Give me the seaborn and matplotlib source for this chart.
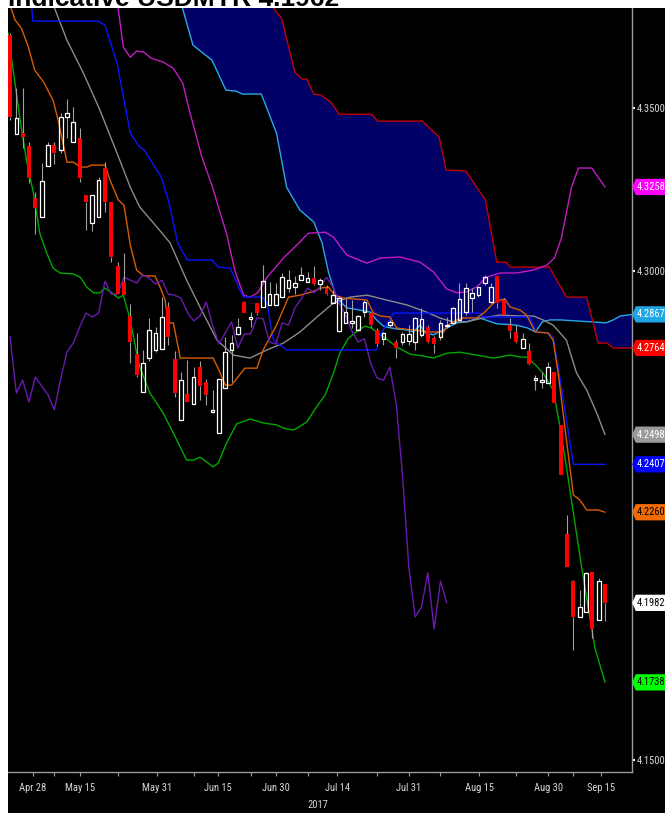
import numpy as np
import pandas as pd
import matplotlib
matplotlib.use("Agg")
import matplotlib.pyplot as plt
from matplotlib import font_manager
from matplotlib.font_manager import FontProperties
from matplotlib.patches import Rectangle
from matplotlib.path import Path
import seaborn as sns

# daily candles, USDMYR (index 0 = first bar on the chart)
opens = [4.3724, 4.3420, 4.3423, 4.3383, 4.3224, 4.3166, 4.3322, 4.3386, 4.3371, 4.3472,
         4.3396, 4.3408, 4.3233, 4.3147, 4.3166, 4.3316, 4.3211, 4.3015, 4.2966, 4.2862,
         4.2746, 4.2629, 4.2733, 4.2758, 4.2761, 4.2890, 4.2730, 4.2543, 4.2623, 4.2592,
         4.2705, 4.2659, 4.2567, 4.2503, 4.2641, 4.2758, 4.2807, 4.2905, 4.2853, 4.2902,
         4.2890, 4.2896, 4.2896, 4.2920, 4.2948, 4.2951, 4.2972, 4.2966, 4.2978, 4.2960,
         4.2948, 4.2902, 4.2816, 4.2841, 4.2841, 4.2819, 4.2874, 4.2871, 4.2819, 4.2792,
         4.2834, 4.2782, 4.2782, 4.2785, 4.2782, 4.2804, 4.2828, 4.2795, 4.2798, 4.2831,
         4.2841, 4.2850, 4.2874, 4.2917, 4.2926, 4.2963, 4.2905, 4.2985, 4.2911, 4.2834,
         4.2813, 4.2764, 4.2755, 4.2665, 4.2659, 4.2656, 4.2690, 4.2528, 4.2193, 4.2049,
         4.1939, 4.1954, 4.2077, 4.1930, 4.2040]
highs = [4.3730, 4.3561, 4.3561, 4.3396, 4.3242, 4.3331, 4.3396, 4.3396, 4.3484, 4.3527,
         4.3503, 4.3438, 4.3233, 4.3233, 4.3288, 4.3334, 4.3211, 4.3027, 4.3055, 4.2899,
         4.2810, 4.2758, 4.2856, 4.2828, 4.2920, 4.2905, 4.2755, 4.2690, 4.2727, 4.2705,
         4.2724, 4.2669, 4.2635, 4.2669, 4.2798, 4.2804, 4.2856, 4.2908, 4.2874, 4.2902,
         4.3018, 4.2966, 4.2963, 4.2994, 4.3003, 4.2985, 4.3012, 4.2997, 4.3015, 4.2978,
         4.2957, 4.2942, 4.2923, 4.2917, 4.2911, 4.2865, 4.2911, 4.2874, 4.2825, 4.2813,
         4.2850, 4.2788, 4.2813, 4.2834, 4.2859, 4.2887, 4.2834, 4.2801, 4.2850, 4.2859,
         4.2890, 4.2963, 4.2963, 4.2948, 4.2951, 4.2988, 4.2963, 4.2985, 4.2917, 4.2856,
         4.2834, 4.2810, 4.2779, 4.2681, 4.2690, 4.2721, 4.2690, 4.2528, 4.2251, 4.2052,
         4.2021, 4.2077, 4.2077, 4.2058, 4.2040]
lows = [4.3463, 4.3420, 4.3377, 4.3270, 4.3113, 4.3166, 4.3322, 4.3328, 4.3362, 4.3408,
        4.3396, 4.3273, 4.3126, 4.3123, 4.3166, 4.3181, 4.3027, 4.2929, 4.2926, 4.2718,
        4.2675, 4.2629, 4.2724, 4.2752, 4.2761, 4.2773, 4.2614, 4.2543, 4.2598, 4.2592,
        4.2604, 4.2589, 4.2564, 4.2503, 4.2641, 4.2659, 4.2804, 4.2871, 4.2828, 4.2865,
        4.2890, 4.2896, 4.2896, 4.2920, 4.2936, 4.2929, 4.2972, 4.2966, 4.2957, 4.2942,
        4.2926, 4.2902, 4.2813, 4.2841, 4.2825, 4.2816, 4.2859, 4.2828, 4.2770, 4.2773,
        4.2828, 4.2733, 4.2773, 4.2773, 4.2758, 4.2798, 4.2779, 4.2749, 4.2788, 4.2825,
        4.2841, 4.2850, 4.2865, 4.2874, 4.2920, 4.2957, 4.2902, 4.2887, 4.2865, 4.2795,
        4.2779, 4.2764, 4.2712, 4.2635, 4.2641, 4.2656, 4.2595, 4.2374, 4.2092, 4.1837,
        4.1939, 4.1954, 4.1874, 4.1930, 4.1925]
closes = [4.3472, 4.3469, 4.3411, 4.3285, 4.3193, 4.3276, 4.3386, 4.3362, 4.3472, 4.3484,
          4.3457, 4.3285, 4.3211, 4.3233, 4.3279, 4.3211, 4.3043, 4.2929, 4.2926, 4.2782,
          4.2681, 4.2718, 4.2819, 4.2810, 4.2859, 4.2798, 4.2626, 4.2665, 4.2598, 4.2675,
          4.2647, 4.2620, 4.2574, 4.2669, 4.2752, 4.2779, 4.2828, 4.2871, 4.2859, 4.2871,
          4.2969, 4.2929, 4.2929, 4.2981, 4.2972, 4.2963, 4.2988, 4.2978, 4.2960, 4.2972,
          4.2929, 4.2926, 4.2917, 4.2874, 4.2847, 4.2862, 4.2905, 4.2834, 4.2776, 4.2810,
          4.2844, 4.2764, 4.2807, 4.2807, 4.2856, 4.2853, 4.2782, 4.2776, 4.2841, 4.2834,
          4.2887, 4.2914, 4.2948, 4.2933, 4.2951, 4.2981, 4.2951, 4.2902, 4.2865, 4.2816,
          4.2782, 4.2792, 4.2715, 4.2672, 4.2665, 4.2705, 4.2595, 4.2374, 4.2092, 4.1939,
          4.1969, 4.2074, 4.1902, 4.2049, 4.1982]

# ichimoku lines (bar index, value)
tenkan_idx = [0, 0.8, 1.8, 2.9, 3.9, 5.3, 6.8, 7.6, 8.7, 9.0, 10.0, 11.1, 12.1, 12.9, 15.0,
              15.8, 17.1, 18.0, 19.0, 20.0, 21.1, 22.9, 23.7, 24.5, 25.0, 25.8, 26.9, 32.1,
              33.2, 34.0, 35.0, 37.1, 39.0, 40.0, 42.1, 44.0, 45.8, 47.7, 49.2, 50.3, 51.3,
              52.7, 56.4, 57.4, 58.5, 60.0, 61.1, 63.7, 66.4, 68.5, 69.2, 70.6, 71.6, 73.7,
              75.0, 76.4, 77.4, 78.2, 79.0, 80.6, 81.6, 83.0, 85.0, 85.8, 86.6, 87.9, 89.0,
              90.0, 91.1, 92.9, 94.0]
tenkan_val = [4.3816, 4.3770, 4.3745, 4.3687, 4.3616, 4.3580, 4.3524, 4.3463, 4.3362, 4.3334,
              4.3334, 4.3319, 4.3319, 4.3325, 4.3325, 4.3279, 4.3218, 4.3202, 4.3080, 4.3003,
              4.2985, 4.2985, 4.2951, 4.2911, 4.2841, 4.2841, 4.2733, 4.2733, 4.2687, 4.2650,
              4.2650, 4.2702, 4.2702, 4.2758, 4.2834, 4.2920, 4.2926, 4.2936, 4.2948, 4.2951,
              4.2926, 4.2917, 4.2911, 4.2871, 4.2862, 4.2859, 4.2825, 4.2819, 4.2813, 4.2813,
              4.2834, 4.2850, 4.2856, 4.2856, 4.2874, 4.2902, 4.2911, 4.2914, 4.2890, 4.2880,
              4.2865, 4.2813, 4.2810, 4.2788, 4.2687, 4.2482, 4.2313, 4.2298, 4.2267, 4.2267,
              4.2260]
kijun_idx = [0, 3.3, 3.6, 13.9, 15.0, 16.9, 19.0, 20.5, 21.2, 23.9, 25.0, 26.5, 28.0, 31.9,
             32.9, 34.8, 36.3, 36.9, 39.8, 40.6, 41.6, 43.7, 57.9, 58.5, 60.6, 74.2, 74.7,
             82.1, 83.1, 85.0, 85.8, 86.6, 89.0, 94.0]
kijun_val = [4.3846, 4.3846, 4.3767, 4.3767, 4.3754, 4.3638, 4.3423, 4.3380, 4.3371, 4.3288,
             4.3218, 4.3086, 4.3034, 4.3034, 4.3012, 4.3009, 4.2942, 4.2920, 4.2920, 4.2902,
             4.2788, 4.2758, 4.2758, 4.2804, 4.2871, 4.2871, 4.2859, 4.2859, 4.2813, 4.2810,
             4.2798, 4.2705, 4.2407, 4.2407]
span_a_idx = [26.0, 27.3, 28.9, 31.9, 34.1, 35.7, 36.7, 39.7, 42.1, 43.7, 45.8, 48.0, 49.3,
              50.3, 51.6, 53.2, 55.3, 56.9, 57.9, 59.0, 59.5, 61.1, 62.7, 63.7, 64.8, 65.6,
              66.9, 69.0, 70.6, 72.1, 74.2, 76.9, 80.0, 81.8, 83.0, 84.1, 85.3, 87.0, 94.2,
              95.3, 96.4, 98.4]
span_a_val = [4.3892, 4.3803, 4.3693, 4.3647, 4.3555, 4.3552, 4.3543, 4.3543, 4.3423, 4.3257,
              4.3187, 4.3150, 4.3086, 4.2997, 4.2917, 4.2887, 4.2880, 4.2874, 4.2850, 4.2831,
              4.2828, 4.2822, 4.2819, 4.2813, 4.2834, 4.2810, 4.2804, 4.2825, 4.2841, 4.2844,
              4.2856, 4.2838, 4.2834, 4.2825, 4.2813, 4.2844, 4.2850, 4.2850, 4.2841, 4.2850,
              4.2862, 4.2867]
span_b_idx = [41.0, 41.7, 42.9, 45.0, 46.1, 46.9, 48.0, 49.1, 50.7, 52.0, 57.1, 58.1, 65.1,
              67.8, 68.9, 72.0, 75.1, 76.9, 78.3, 79.1, 85.2, 87.9, 91.1, 92.9, 94.3, 95.3, 98.4]
span_b_val = [4.3862, 4.3803, 4.3776, 4.3610, 4.3589, 4.3589, 4.3543, 4.3540, 4.3518, 4.3481,
              4.3481, 4.3460, 4.3460, 4.3411, 4.3310, 4.3307, 4.3218, 4.3027, 4.3027, 4.3012,
              4.3012, 4.2920, 4.2920, 4.2779, 4.2779, 4.2764, 4.2764]

# bollinger bands
bb_up_idx = [16.0, 17.1, 17.9, 19.0, 20.0, 21.1, 22.3, 24.2, 25.8, 27.3, 28.2, 30.3, 32.0,
             33.2, 34.2, 35.5, 36.9, 37.9, 39.1, 40.6, 43.2, 45.8, 47.1, 49.8, 51.1, 53.2,
             56.4, 58.5, 61.6, 64.8, 66.9, 69.0, 70.6, 72.1, 73.7, 75.3, 77.4, 80.0, 82.7,
             84.8, 86.0, 87.1, 88.7, 89.8, 91.9, 94.0]
bb_up_val = [4.3892, 4.3803, 4.3687, 4.3656, 4.3675, 4.3672, 4.3653, 4.3641, 4.3622, 4.3576,
             4.3503, 4.3350, 4.3257, 4.3178, 4.3116, 4.3003, 4.2926, 4.2920, 4.2933, 4.2981,
             4.3040, 4.3089, 4.3116, 4.3119, 4.3104, 4.3049, 4.3024, 4.3040, 4.3043, 4.3027,
             4.2997, 4.2945, 4.2933, 4.2936, 4.2951, 4.2981, 4.2994, 4.2994, 4.3003, 4.3018,
             4.3040, 4.3101, 4.3257, 4.3316, 4.3316, 4.3258]
bb_mid_idx = [6.0, 7.1, 9.0, 11.6, 14.2, 16.9, 19.0, 20.5, 23.2, 25.3, 27.9, 30.0, 32.7,
              35.3, 37.9, 40.6, 43.2, 45.8, 48.5, 51.1, 53.7, 56.4, 59.5, 62.7, 65.8, 67.9,
              70.0, 72.1, 74.7, 77.4, 80.6, 82.7, 84.2, 85.8, 87.9, 89.5, 91.1, 92.7, 94.0]
bb_mid_val = [4.3862, 4.3803, 4.3708, 4.3607, 4.3494, 4.3362, 4.3257, 4.3196, 4.3135, 4.3086,
              4.2972, 4.2890, 4.2788, 4.2742, 4.2733, 4.2758, 4.2779, 4.2813, 4.2859, 4.2902,
              4.2920, 4.2926, 4.2911, 4.2896, 4.2874, 4.2856, 4.2844, 4.2844, 4.2856, 4.2865,
              4.2862, 4.2862, 4.2850, 4.2834, 4.2788, 4.2687, 4.2635, 4.2564, 4.2498]
bb_low_idx = [-0.3, 0.5, 1.6, 2.6, 3.7, 4.7, 5.8, 6.8, 7.9, 10.0, 11.1, 12.1, 13.2, 14.2,
              15.0, 16.1, 17.1, 17.9, 19.0, 20.0, 20.5, 22.1, 24.2, 25.8, 27.9, 29.0, 30.0,
              32.1, 32.9, 34.2, 35.8, 37.9, 40.0, 42.1, 43.2, 44.8, 46.9, 48.2, 49.8, 51.1,
              52.1, 53.4, 55.0, 56.1, 57.1, 59.0, 61.1, 63.2, 65.3, 66.9, 69.0, 71.1, 73.7,
              76.4, 79.0, 80.6, 81.6, 82.7, 84.2, 85.8, 86.9, 87.9, 89.0, 90.3, 91.4, 92.4, 94.0]
bb_low_val = [4.3730, 4.3616, 4.3463, 4.3340, 4.3239, 4.3116, 4.3055, 4.3009, 4.2994, 4.2991,
              4.2981, 4.2951, 4.2933, 4.2933, 4.2948, 4.2933, 4.2917, 4.2926, 4.2850, 4.2748,
              4.2705, 4.2626, 4.2564, 4.2503, 4.2420, 4.2420, 4.2429, 4.2399, 4.2411, 4.2472,
              4.2531, 4.2546, 4.2534, 4.2528, 4.2518, 4.2512, 4.2537, 4.2577, 4.2620, 4.2687,
              4.2748, 4.2792, 4.2819, 4.2831, 4.2825, 4.2798, 4.2767, 4.2745, 4.2739, 4.2733,
              4.2748, 4.2751, 4.2742, 4.2733, 4.2742, 4.2736, 4.2736, 4.2718, 4.2687, 4.2635,
              4.2521, 4.2399, 4.2258, 4.2092, 4.1960, 4.1844, 4.1738]

chikou_lag = 25

date_ticks = [3.6, 11.1, 23.2, 32.9, 42.0, 51.7, 63.0, 74.1, 85.0, 93.4]
date_labels = ["Apr 28", "May 15", "May 31", "Jun 15", "Jun 30", "Jul 14", "Jul 31",
               "Aug 15", "Aug 30", "Sep 15"]
minor_ticks = [7.0, 17.0, 29.0, 38.0, 47.0, 58.0, 68.0, 80.0, 89.0]
price_ticks = [4.35, 4.30, 4.15]

tag_vals = [4.3258, 4.2867, 4.2764, 4.2498, 4.2407, 4.2260, 4.1982, 4.1738]
tag_bg = ["#ff00ff", "#1ea6e6", "#ff0000", "#9a9a9a", "#0000ff", "#f26a00", "#ffffff", "#00ff00"]
tag_fg = ["white", "white", "white", "white", "white", "black", "black", "black"]

sns.set_theme(style="dark", rc={"axes.facecolor": "black", "figure.facecolor": "white"})
plt.rcParams["font.family"] = ["Liberation Sans", "DejaVu Sans"]


def narrow_font():
    # the terminal labels use a condensed face; take one if the system has it
    found = []
    for f in font_manager.fontManager.ttflist:
        cond = ("Narrow" in f.name or "Condensed" in f.name or "Cond" in f.name
                or str(f.stretch) in ("condensed", "semi-condensed", "extra-condensed"))
        if cond and f.style == "normal" and str(f.weight) in ("400", "normal", "regular", "book"):
            found.append(f)
    for name in ["Liberation Sans Narrow", "Roboto", "Noto Sans", "Open Sans", "DejaVu Sans"]:
        for f in found:
            if f.name.startswith(name) and "CJK" not in f.name:
                return FontProperties(fname=f.fname)
    return FontProperties(family="Liberation Sans")


W, H = 665, 813
fig = plt.figure(figsize=(W / 100, H / 100), dpi=100)
renderer = fig.canvas.get_renderer()

base = narrow_font()
probe = fig.text(0, 0, "4.3258", fontproperties=base, fontsize=10)
pw = probe.get_window_extent(renderer).width
probe.remove()
small = min(9.5, 10 * 28.5 / pw)
lab = base.copy()
lab.set_size(small)

fig.add_artist(Rectangle((8 / W, 0), 1, 1 - 8 / H, transform=fig.transFigure,
                         facecolor="black", edgecolor="none", zorder=-5))
ax = fig.add_axes([8 / W, 1 - 772 / H, (632 - 8) / W, (772 - 8) / H])
ax.set_facecolor("black")

# cloud
cx = np.concatenate([span_a_idx, span_b_idx[::-1]])
cy = np.concatenate([span_a_val, span_b_val[::-1]])
ax.fill(cx, cy, color="#000066", lw=0, zorder=1)

lines = [
    (span_a_idx, span_a_val, "#2aa8e4"),
    (span_b_idx, span_b_val, "#c00000"),
    (bb_up_idx, bb_up_val, "#c21cc2"),
    (bb_mid_idx, bb_mid_val, "#8c8c8c"),
    (bb_low_idx, bb_low_val, "#00a800"),
    (kijun_idx, kijun_val, "#0a14ff"),
    (tenkan_idx, tenkan_val, "#d95c00"),
]
for xs, ys, col in lines:
    sns.lineplot(x=xs, y=ys, color=col, lw=1.0, ax=ax, estimator=None, sort=False, zorder=2)

chikou = closes[chikou_lag:]
sns.lineplot(x=np.arange(len(chikou)), y=chikou, color="#6a1ab0", lw=1.0, ax=ax,
             estimator=None, sort=False, zorder=2)

# candles
df = pd.DataFrame({"o": opens, "h": highs, "l": lows, "c": closes})
df["i"] = np.arange(len(df))
up = df["c"] >= df["o"]
top = df[["o", "c"]].max(axis=1)
bot = df[["o", "c"]].min(axis=1)
body = (top - bot).clip(lower=0.00025)
ax.vlines(df["i"], top, df["h"], color="#a0a0a0", lw=0.8, zorder=3)
ax.vlines(df["i"], df["l"], bot, color="#a0a0a0", lw=0.8, zorder=3)
ax.bar(df["i"][~up], body[~up], bottom=bot[~up], width=0.62, color="#ff0000", lw=0, zorder=4)
ax.bar(df["i"][up], body[up], bottom=bot[up], width=0.58, facecolor="none",
       edgecolor="white", lw=0.9, zorder=4)

ax.set_xlim(-0.32, 98.26)
ax.set_ylim(4.1463, 4.3807)
ax.set_xlabel("")
ax.set_ylabel("")
ax.grid(False)

for side in ["left", "top"]:
    ax.spines[side].set_visible(False)
for side in ["right", "bottom"]:
    ax.spines[side].set_visible(True)
    ax.spines[side].set_color("#9a9a9a")
    ax.spines[side].set_linewidth(1.0)

ax.yaxis.tick_right()
ax.set_yticks(price_ticks)
ax.set_yticklabels([f"{v:.4f}" for v in price_ticks])
ax.tick_params(axis="y", which="both", direction="out", length=2.5, width=1.5,
               color="white", labelcolor="#d8d8d8", pad=1, left=False, right=True)
ax.set_xticks(date_ticks)
ax.set_xticklabels(date_labels)
ax.set_xticks(minor_ticks, minor=True)
ax.tick_params(axis="x", which="both", direction="out", length=3, width=0.8,
               color="#9a9a9a", labelcolor="#d8d8d8", pad=5, bottom=True)
for t in ax.get_xticklabels() + ax.get_yticklabels():
    t.set_fontproperties(lab)


def tag_shape(x0, y0, width, height, mutation_size):
    padx, pady = 0.08 * mutation_size, 0.3 * mutation_size
    x0, y0 = x0 - padx, y0 - pady
    width, height = width + 2 * padx + 6, height + 2 * pady
    tip = 3.5
    return Path([(x0 - tip, y0 + height / 2), (x0, y0 + height), (x0 + width, y0 + height),
                 (x0 + width, y0), (x0, y0), (x0 - tip, y0 + height / 2)], closed=True)


for val, bg, fg in zip(tag_vals, tag_bg, tag_fg):
    ax.annotate(f"{val:.4f}", xy=(1, val), xycoords=ax.get_yaxis_transform(),
                xytext=(3.3, 0), textcoords="offset points", ha="left", va="center",
                fontproperties=lab, color=fg, annotation_clip=False,
                bbox=dict(boxstyle=tag_shape, fc=bg, ec="none"))

fig.text(318 / W, 1 - 800 / H, "2017", ha="center", va="top", color="#d8d8d8",
         fontproperties=lab)
fig.text(8 / W, 1 - 5.5 / H, "Indicative USDMYR 4.1962", ha="left", va="baseline",
         fontsize=19, fontweight="bold", color="black",
         family=["Liberation Sans", "DejaVu Sans"])

fig.savefig("out.png", dpi=100)
